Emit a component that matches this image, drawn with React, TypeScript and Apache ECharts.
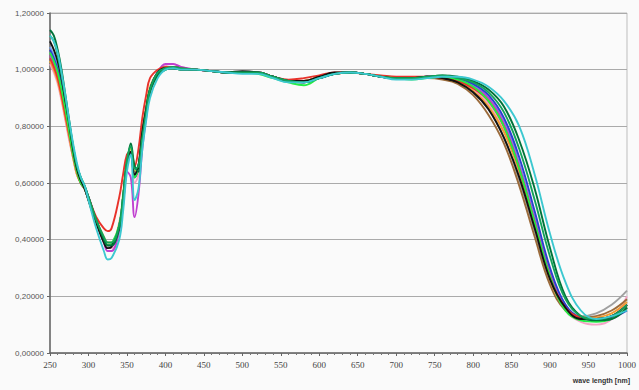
import React, { useEffect, useRef } from "react";
import * as echarts from "echarts";

const wavelengths = [250,255,260,265,270,275,280,285,290,295,300,310,320,325,330,340,345,350,355,360,365,370,375,380,390,400,410,420,440,460,480,500,520,540,560,580,600,620,640,660,680,700,720,740,760,780,800,820,840,860,880,900,920,940,960,980,1000];

const xTicks = [250,300,350,400,450,500,550,600,650,700,750,800,850,900,950,1000];
const yTicks = [0,0.2,0.4,0.6,0.8,1.0,1.2];

const sBlack = [1.10,1.07,1.03,0.97,0.89,0.81,0.72,0.65,0.61,0.58,0.54,0.46,0.39,0.37,0.375,0.44,0.54,0.67,0.71,0.63,0.66,0.78,0.86,0.93,0.99,1.005,1.005,1.0,1.0,0.995,0.99,0.995,0.99,0.975,0.96,0.96,0.975,0.99,0.99,0.985,0.975,0.97,0.97,0.975,0.97,0.955,0.92,0.86,0.76,0.62,0.44,0.26,0.16,0.12,0.12,0.13,0.17];
const sDarkGreen = [1.14,1.12,1.07,1.00,0.91,0.82,0.73,0.66,0.62,0.59,0.55,0.47,0.40,0.38,0.38,0.44,0.53,0.66,0.74,0.66,0.64,0.74,0.84,0.92,0.98,1.0,1.005,1.0,1.0,0.995,0.99,0.99,0.99,0.975,0.96,0.955,0.97,0.985,0.99,0.985,0.975,0.97,0.97,0.975,0.98,0.975,0.96,0.93,0.87,0.75,0.58,0.37,0.20,0.13,0.115,0.12,0.16];
const sGreen = [1.12,1.10,1.05,0.98,0.90,0.81,0.73,0.66,0.62,0.59,0.55,0.47,0.41,0.39,0.39,0.45,0.55,0.68,0.73,0.65,0.66,0.76,0.85,0.93,0.99,1.005,1.01,1.005,1.0,0.995,0.99,0.99,0.99,0.975,0.96,0.955,0.97,0.985,0.99,0.985,0.975,0.97,0.97,0.975,0.98,0.97,0.955,0.92,0.85,0.72,0.54,0.34,0.19,0.13,0.12,0.13,0.17];
const sLime = [1.06,1.03,0.99,0.93,0.86,0.78,0.70,0.64,0.60,0.58,0.54,0.46,0.40,0.38,0.385,0.45,0.55,0.67,0.70,0.62,0.66,0.77,0.86,0.93,0.98,1.0,1.005,1.0,1.0,0.995,0.99,0.99,0.985,0.97,0.955,0.945,0.97,0.985,0.99,0.985,0.975,0.97,0.965,0.97,0.975,0.965,0.94,0.89,0.80,0.65,0.46,0.27,0.15,0.115,0.11,0.12,0.16];
const sRed = [1.04,1.01,0.97,0.91,0.84,0.77,0.70,0.64,0.60,0.58,0.55,0.48,0.44,0.43,0.44,0.55,0.63,0.70,0.71,0.66,0.72,0.83,0.91,0.97,1.0,1.01,1.01,1.005,1.0,0.995,0.99,0.99,0.99,0.975,0.965,0.97,0.98,0.99,0.99,0.985,0.98,0.975,0.975,0.975,0.97,0.96,0.935,0.89,0.80,0.65,0.46,0.27,0.16,0.125,0.12,0.13,0.17];
const sOrange = [1.03,1.0,0.96,0.90,0.83,0.76,0.69,0.63,0.60,0.58,0.54,0.46,0.40,0.38,0.38,0.45,0.55,0.67,0.71,0.62,0.65,0.77,0.86,0.93,0.99,1.01,1.01,1.005,1.0,0.995,0.99,0.99,0.99,0.975,0.96,0.96,0.975,0.985,0.99,0.985,0.975,0.97,0.97,0.975,0.97,0.955,0.925,0.87,0.78,0.64,0.45,0.26,0.155,0.12,0.125,0.14,0.18];
const sBrown = [1.05,1.02,0.98,0.92,0.85,0.78,0.70,0.64,0.60,0.58,0.54,0.46,0.40,0.38,0.38,0.45,0.55,0.67,0.71,0.62,0.65,0.77,0.86,0.93,0.99,1.01,1.01,1.005,1.0,0.995,0.99,0.99,0.99,0.975,0.96,0.96,0.975,0.985,0.99,0.985,0.975,0.97,0.97,0.97,0.965,0.95,0.91,0.84,0.74,0.59,0.41,0.24,0.15,0.125,0.13,0.15,0.19];
const sPink = [1.02,0.99,0.95,0.89,0.82,0.75,0.69,0.63,0.60,0.58,0.54,0.46,0.40,0.37,0.37,0.44,0.54,0.66,0.70,0.60,0.63,0.76,0.85,0.93,0.99,1.015,1.02,1.01,1.0,0.995,0.99,0.99,0.99,0.975,0.96,0.96,0.975,0.985,0.99,0.985,0.975,0.97,0.97,0.975,0.97,0.96,0.93,0.88,0.79,0.64,0.45,0.26,0.15,0.11,0.10,0.12,0.20];
const sMagenta = [1.05,1.02,0.98,0.92,0.85,0.78,0.70,0.64,0.60,0.58,0.54,0.46,0.39,0.36,0.36,0.43,0.52,0.64,0.62,0.48,0.56,0.72,0.83,0.92,0.99,1.02,1.02,1.01,1.0,0.995,0.99,0.99,0.99,0.975,0.96,0.955,0.97,0.985,0.99,0.985,0.975,0.97,0.97,0.975,0.975,0.965,0.94,0.90,0.81,0.66,0.47,0.28,0.16,0.12,0.115,0.12,0.16];
const sBlue = [1.07,1.04,1.0,0.94,0.87,0.79,0.71,0.65,0.61,0.585,0.55,0.47,0.40,0.38,0.38,0.45,0.55,0.67,0.71,0.62,0.66,0.77,0.86,0.93,0.99,1.005,1.01,1.005,1.0,0.995,0.99,0.99,0.99,0.975,0.96,0.955,0.97,0.985,0.99,0.985,0.975,0.97,0.97,0.975,0.975,0.97,0.95,0.91,0.83,0.69,0.50,0.30,0.17,0.125,0.12,0.125,0.15];
const sCornflower = [1.08,1.05,1.01,0.95,0.88,0.80,0.72,0.65,0.61,0.585,0.55,0.47,0.40,0.38,0.38,0.45,0.55,0.67,0.71,0.62,0.66,0.77,0.86,0.93,0.99,1.01,1.01,1.005,1.0,0.995,0.99,0.99,0.99,0.975,0.96,0.955,0.97,0.985,0.99,0.985,0.975,0.97,0.97,0.975,0.975,0.965,0.945,0.90,0.82,0.67,0.48,0.29,0.17,0.125,0.12,0.13,0.17];
const sCyan = [1.12,1.10,1.06,0.99,0.91,0.82,0.74,0.67,0.62,0.59,0.54,0.44,0.36,0.33,0.335,0.40,0.50,0.64,0.70,0.54,0.58,0.72,0.82,0.90,0.97,1.0,1.005,1.0,1.0,0.995,0.99,0.985,0.985,0.97,0.955,0.955,0.97,0.985,0.99,0.985,0.975,0.965,0.965,0.97,0.975,0.975,0.965,0.94,0.89,0.80,0.63,0.42,0.25,0.15,0.12,0.13,0.15];
const sGray = [1.06,1.03,0.99,0.93,0.86,0.78,0.71,0.64,0.60,0.58,0.54,0.46,0.40,0.38,0.38,0.45,0.55,0.67,0.71,0.62,0.65,0.77,0.86,0.93,0.99,1.005,1.01,1.005,1.0,0.995,0.99,0.99,0.99,0.975,0.96,0.96,0.975,0.985,0.99,0.985,0.975,0.97,0.97,0.975,0.97,0.955,0.92,0.86,0.76,0.61,0.43,0.25,0.16,0.13,0.14,0.17,0.22];
const sYellow = [1.03,1.0,0.96,0.90,0.83,0.76,0.69,0.63,0.60,0.58,0.545,0.47,0.41,0.39,0.39,0.46,0.56,0.68,0.72,0.64,0.66,0.78,0.87,0.94,0.99,1.005,1.01,1.005,1.0,0.995,0.99,0.99,0.99,0.975,0.96,0.96,0.975,0.985,0.99,0.985,0.975,0.97,0.97,0.975,0.97,0.96,0.93,0.88,0.79,0.65,0.46,0.27,0.16,0.12,0.12,0.13,0.17];

const seriesDefs: [string, number[], string][] = [
  ["gray", sGray, "#a0a0a0"],
  ["yellow", sYellow, "#d2c24a"],
  ["pink", sPink, "#f5a3c7"],
  ["brown", sBrown, "#9b6b3b"],
  ["orange", sOrange, "#f39c32"],
  ["cornflower", sCornflower, "#6f9ef0"],
  ["magenta", sMagenta, "#c040d0"],
  ["blue", sBlue, "#2a3fcf"],
  ["red", sRed, "#e8322a"],
  ["lime", sLime, "#22ee44"],
  ["black", sBlack, "#111111"],
  ["darkgreen", sDarkGreen, "#00733a"],
  ["green", sGreen, "#12a35a"],
  ["cyan", sCyan, "#3cc8d0"],
];

export default function App() {
  const ref = useRef<HTMLDivElement>(null);
  useEffect(() => {
    if (!ref.current) return;
    const chart = echarts.init(ref.current, undefined, { renderer: "svg" });
    chart.setOption({
      animation: false,
      backgroundColor: "#fafafa",
      grid: {
        left: 50,
        right: 7,
        top: 13,
        bottom: 37,
        show: true,
        borderColor: "#bdbdbd",
        borderWidth: 1,
        backgroundColor: "#fafafa",
      },
      xAxis: {
        type: "value",
        min: xTicks[0],
        max: xTicks[xTicks.length - 1],
        interval: 50,
        axisLine: { show: true, onZero: false, lineStyle: { color: "#666", width: 1.5 } },
        axisTick: { show: true, length: 3, lineStyle: { color: "#666" } },
        minorTick: { show: true, splitNumber: 5, length: 2, lineStyle: { color: "#777" } },
        splitLine: { show: false },
        axisLabel: {
          margin: 7,
          color: "#444",
          fontFamily: "Liberation Serif",
          fontSize: 9,
          formatter: (v: number) => String(v),
        },
      },
      yAxis: {
        type: "value",
        min: yTicks[0],
        max: yTicks[yTicks.length - 1],
        interval: 0.2,
        axisLine: { show: true, lineStyle: { color: "#666", width: 1.5 } },
        axisTick: { show: true, length: 3, lineStyle: { color: "#666" } },
        splitLine: { show: true, lineStyle: { color: "#aaaaaa", width: 1 } },
        axisLabel: {
          margin: 6,
          color: "#555",
          fontFamily: "Liberation Sans",
          fontSize: 8,
          formatter: (v: number) => v.toFixed(5).replace(".", ","),
        },
      },
      series: seriesDefs.map(([name, vals, color]) => ({
        name,
        type: "line",
        data: wavelengths.map((w, i) => [w, vals[i]]),
        smooth: 0.4,
        showSymbol: false,
        symbol: "none",
        lineStyle: { color, width: 1.9 },
        itemStyle: { color },
      })),
      graphic: [
        {
          type: "text",
          right: 9,
          top: 377,
          style: {
            text: "wave length [nm]",
            font: "bold 7px 'Liberation Sans'",
            fill: "#333",
          },
        },
      ],
    });
    return () => chart.dispose();
  }, []);
  return (
    <div
      ref={ref}
      style={{ position: "absolute", left: 0, top: 0, width: 639, height: 390 }}
    />
  );
}
